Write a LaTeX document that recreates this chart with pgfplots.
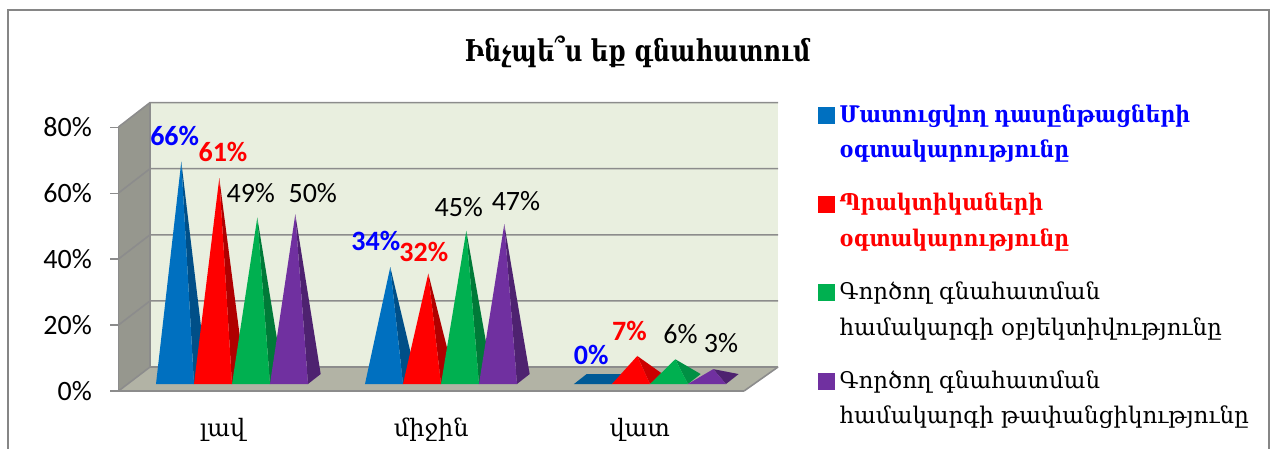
\documentclass[border=0pt]{standalone}
\usepackage{graphicx}
\usepackage{pgfplots}
\pgfplotsset{compat=1.18}
\usepackage{fontspec}
\setmainfont{Carlito}
\newfontfamily\arm{DejaVu Serif}
\newcommand\armb[1]{\scalebox{0.89}[1]{\arm\bfseries #1}}
\definecolor{cBlue}{HTML}{0070C0}\definecolor{sBlue}{HTML}{004F88}\definecolor{fBlue}{HTML}{005A96}
\definecolor{cRed}{HTML}{FF0000}\definecolor{sRed}{HTML}{B00000}\definecolor{lRed}{HTML}{CC0000}
\definecolor{cGreen}{HTML}{00B050}\definecolor{sGreen}{HTML}{007A38}\definecolor{lGreen}{HTML}{009044}
\definecolor{cPurple}{HTML}{7030A0}\definecolor{sPurple}{HTML}{4E2270}
\definecolor{wallB}{HTML}{E9EFDF}\definecolor{wallL}{HTML}{96978E}\definecolor{floorC}{HTML}{B2B3A5}
\definecolor{gridC}{HTML}{8C8C8C}\definecolor{frameC}{HTML}{868686}
% pyramid: group, series, value, front colour, side colour
\newcommand\pyr[5]{%
 \pgfmathsetmacro\xL{(156+209*#1+38*#2-118.5)/208.5-0.5}%
 \pgfmathsetmacro\xR{\xL+38/208.5}%
 \pgfmathsetmacro\xS{\xR+12.7/208.5}%
 \pgfmathsetmacro\xA{\xL+25.3/208.5}%
 \pgfmathsetmacro\yA{#3+3.64}%
 \addplot[forget plot,draw=none,fill=#5,mark=none] coordinates {(\xR,2.12) (\xS,5.15) (\xA,\yA)} --cycle;
 \addplot[forget plot,draw=none,fill=#4,mark=none] coordinates {(\xL,2.12) (\xR,2.12) (\xA,\yA)} --cycle;
}
% label at reference position: centre x, baseline y, style, text
\newcommand\lab[4]{%
 \pgfmathsetmacro\lx{(#1-118.5)/208.5-0.5}%
 \pgfmathsetmacro\ly{(391-#2-1)/3.29}%
 \edef\tmp{\noexpand\node[anchor=base,inner sep=0pt,font=\noexpand\fontsize{21}{24}\noexpand\selectfont\unexpanded{#3}] at (axis cs:\lx,\ly) {\unexpanded{#4}};}\tmp}
\newcommand\entry[2]{\parbox[t]{330pt}{\fontsize{17.2}{26.8}\selectfont #1\\#2}\rule{0pt}{17.2pt}}
\newcommand\sq[1]{\fill[#1] (0pt,-0.8pt) rectangle (12pt,11.2pt);}
\begin{document}
\begin{tikzpicture}
\useasboundingbox (0pt,0pt) rectangle (952.5pt,-336.75pt);
\begin{scope}[x=0.75pt,y=-0.75pt]
 \draw[frameC,line width=1.5pt] (7.5,449) -- (7.5,10) -- (1269,10) -- (1269,449);
 \fill[wallB] (150,102.5) rectangle (778,367);
 \fill[wallL] (118.5,391) -- (150,367) -- (150,102.5) -- (118.5,127.5) -- cycle;
 \fill[floorC] (118.5,391) -- (744,391) -- (778,367) -- (150,367) -- cycle;
 \foreach \k in {0,1,2,3,4}{
  \pgfmathsetmacro\yb{367-66.1*\k}\pgfmathsetmacro\yf{391-66*\k}
  \draw[gridC,line width=1.2pt] (118.5,\yf) -- (150,\yb) -- (778,\yb);
 }
 \draw[gridC,line width=1.2pt] (150,102.5) -- (150,367);
 \draw[gridC,line width=1.2pt] (744,391) -- (778,367);
\end{scope}
\begin{axis}[
 at={(88.875pt,-293.25pt)},anchor=south west,
 scale only axis,width=469.1pt,height=197.6pt,
 xmin=-0.5,xmax=2.5,ymin=0,ymax=80,clip=false,
 axis x line*=bottom,axis y line*=left,
 axis line style={-,gridC,line width=1.2pt},
 xtick={0,1,2},xticklabels={լավ,միջին,վատ},
 minor xtick={-0.5,0.5,1.5,2.5},
 ytick={0,20,40,60,80},
 yticklabel={\pgfmathprintnumber{\tick}\%},
 /pgf/number format/assume math mode=true,
 tick align=outside,
 major tick length=6pt,minor tick length=6pt,
 xtick style={draw=none},
 minor x tick style={gridC,line width=1.2pt},
 ytick style={gridC,line width=1.2pt},
 xticklabel style={font=\arm\fontsize{18}{22}\selectfont,text=black,yshift=-11pt},
 yticklabel style={font=\fontsize{21}{24}\selectfont,text=black,xshift=-10.5pt},
 title={\fontsize{22.5}{26}\selectfont\scalebox{0.8}[1]{\arm\bfseries Ինչպե՞ս եք գնահատում}},
 title style={at={(0.83,1.219)},anchor=base,inner sep=0pt},
 legend style={at={(1.118,1.118)},anchor=north west,draw=none,fill=none,inner sep=0pt,outer sep=0pt,
   row sep=43.85pt,column sep=2pt,cells={anchor=base west,inner sep=0pt,outer sep=0pt}},
]
\addlegendimage{legend image code/.code={\sq{cBlue}}}
\addlegendentry{\entry{\textcolor{blue}{\armb{Մատուցվող դասընթացների}}}{\textcolor{blue}{\armb{օգտակարությունը}}}}
\addlegendimage{legend image code/.code={\sq{cRed}}}
\addlegendentry{\entry{\textcolor{red}{\armb{Պրակտիկաների}}}{\textcolor{red}{\armb{օգտակարությունը}}}}
\addlegendimage{legend image code/.code={\sq{cGreen}}}
\addlegendentry{\entry{\arm Գործող գնահատման}{\arm համակարգի օբյեկտիվությունը}}
\addlegendimage{legend image code/.code={\sq{cPurple}}}
\addlegendentry{\entry{\arm Գործող գնահատման}{\arm համակարգի թափանցիկությունը}}
% լավ
\pyr{0}{0}{66}{cBlue}{sBlue}
\pyr{0}{1}{61}{cRed}{sRed}
\pyr{0}{2}{49}{cGreen}{sGreen}
\pyr{0}{3}{50}{cPurple}{sPurple}
% միջին
\pyr{1}{0}{34}{cBlue}{sBlue}
\pyr{1}{1}{32}{cRed}{sRed}
\pyr{1}{2}{45}{cGreen}{sGreen}
\pyr{1}{3}{47}{cPurple}{sPurple}
% վատ: the 0% pyramid is a flat base
\addplot[forget plot,draw=none,fill=fBlue,mark=none] coordinates {(1.6846,2.12) (1.8669,2.12) (1.9278,5.15) (1.7455,5.15)} --cycle;
\pyr{2}{1}{7}{cRed}{lRed}
\pyr{2}{2}{6}{cGreen}{lGreen}
\pyr{2}{3}{3}{cPurple}{sPurple}
\lab{174.7}{144.3}{\bfseries\color{blue}}{66\%}
\lab{223}{160.7}{\bfseries\color{red}}{61\%}
\lab{250.8}{201.7}{}{49\%}
\lab{312.8}{201.7}{}{50\%}
\lab{375.8}{250}{\bfseries\color{blue}}{34\%}
\lab{423.8}{261}{\bfseries\color{red}}{32\%}
\lab{458.8}{216}{}{45\%}
\lab{516}{209.3}{}{47\%}
\lab{591.3}{363.3}{\bfseries\color{blue}}{0\%}
\lab{629.5}{340}{\bfseries\color{red}}{7\%}
\lab{680.5}{342.7}{}{6\%}
\lab{721}{351.7}{}{3\%}
\end{axis}
\end{tikzpicture}
\end{document}
